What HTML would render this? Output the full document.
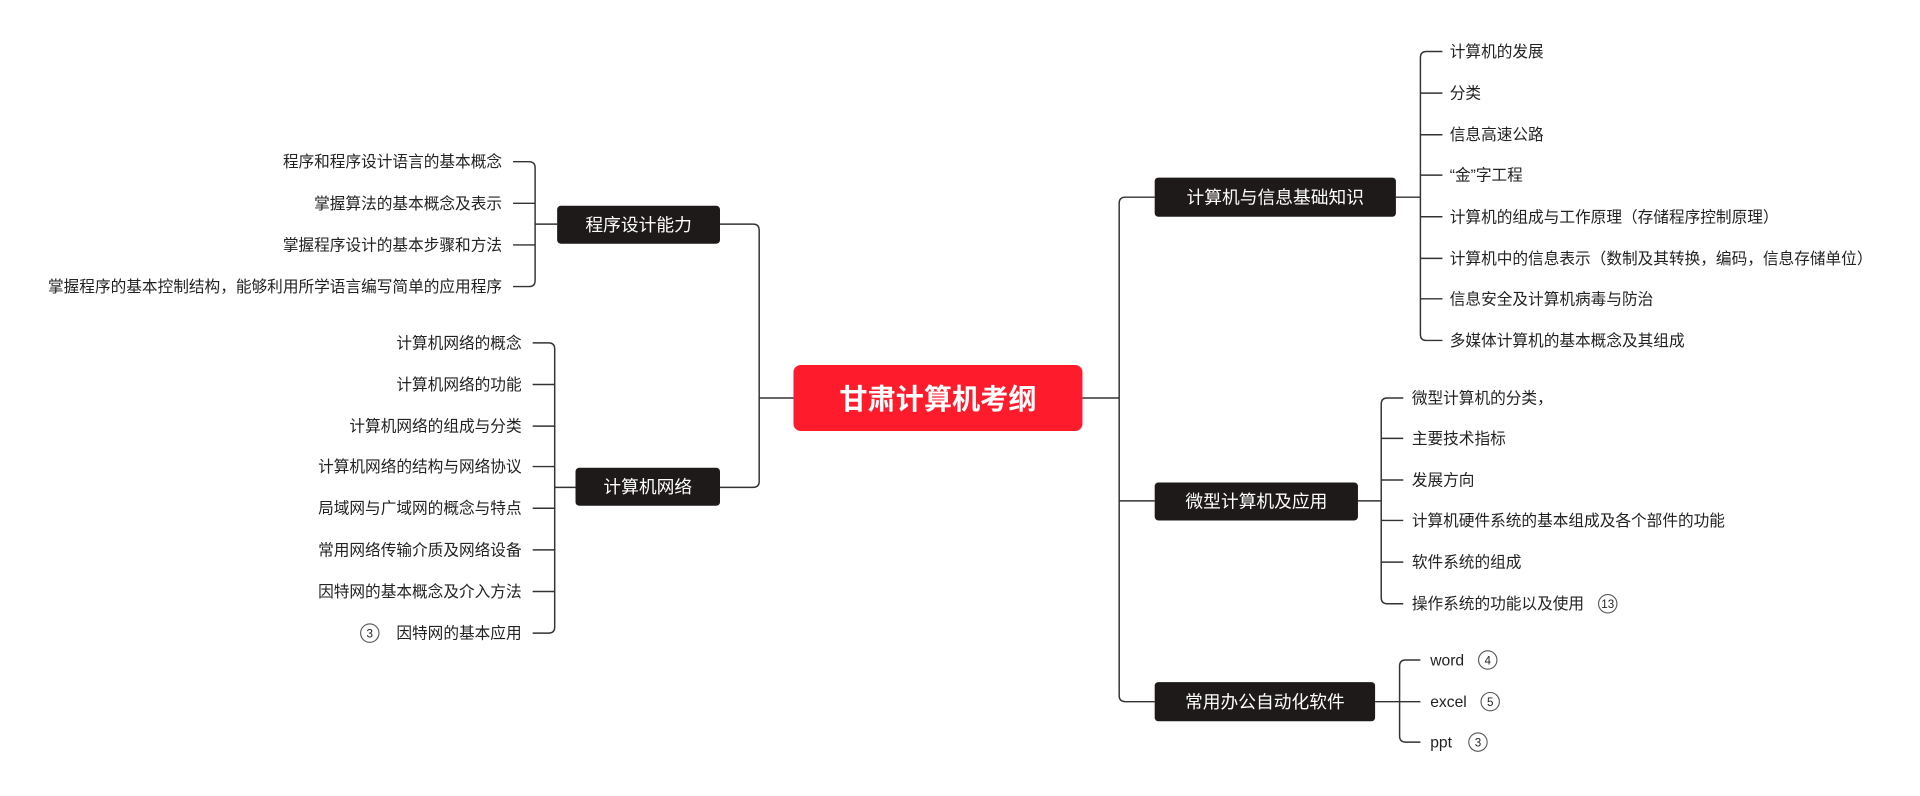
<!DOCTYPE html>
<html><head><meta charset="utf-8"><style>
html,body{margin:0;padding:0;background:#fff;width:1920px;height:796px;overflow:hidden}
svg text{font-family:"Liberation Sans","Noto Sans CJK SC",sans-serif;fill:#222}
</style></head><body>
<svg width="1920" height="796" viewBox="0 0 1568 650" xmlns="http://www.w3.org/2000/svg">
<g fill="none" stroke="#333" stroke-width="1.2">
<path d="M884,325 H914"/>
<path d="M914,325 V166 Q914,161 919,161 H943"/>
<path d="M914,325 V568 Q914,573 919,573 H943"/>
<path d="M914,409 H943"/>
<path d="M648,325 H620"/>
<path d="M620,325 V188 Q620,183 615,183 H588"/>
<path d="M620,325 V393 Q620,398 615,398 H588"/>
<path d="M1140,161 H1160"/>
<path d="M1178,42 H1165 Q1160,42 1160,47 V273 Q1160,278 1165,278 H1178"/>
<path d="M1160,76 H1178 M1160,110 H1178 M1160,143 H1178 M1160,177 H1178 M1160,211 H1178 M1160,244 H1178"/>
<path d="M1109,409 H1128"/>
<path d="M1146,325 H1133 Q1128,325 1128,330 V488 Q1128,493 1133,493 H1146"/>
<path d="M1128,358 H1146 M1128,392 H1146 M1128,425 H1146 M1128,459 H1146"/>
<path d="M1123,573 H1143"/>
<path d="M1160,539 H1148 Q1143,539 1143,544 V601 Q1143,606 1148,606 H1160"/>
<path d="M1143,573 H1160"/>
<path d="M455,183 H437"/>
<path d="M419,132 H432 Q437,132 437,137 V229 Q437,234 432,234 H419"/>
<path d="M437,166 H419 M437,200 H419"/>
<path d="M470,398 H453"/>
<path d="M435,280 H448 Q453,280 453,285 V512 Q453,517 448,517 H435"/>
<path d="M453,314 H435 M453,348 H435 M453,381 H435 M453,415 H435 M453,449 H435 M453,483 H435"/>
</g>
<rect x="648" y="298" width="236" height="54" rx="6" fill="#fe1b2b"/>
<text x="766" y="334" text-anchor="middle" font-size="23" font-weight="bold" style="fill:#fff">甘肃计算机考纲</text>
<g font-size="14.5">
<rect x="943" y="145" width="197" height="32" rx="3" fill="#1f1a1a"/>
<text x="1041.5" y="166" text-anchor="middle" style="fill:#fff">计算机与信息基础知识</text>
<rect x="943" y="394" width="166" height="31" rx="3" fill="#1f1a1a"/>
<text x="1026" y="414.5" text-anchor="middle" style="fill:#fff">微型计算机及应用</text>
<rect x="943" y="557" width="180" height="32" rx="3" fill="#1f1a1a"/>
<text x="1033" y="578" text-anchor="middle" style="fill:#fff">常用办公自动化软件</text>
<rect x="455" y="168" width="133" height="31" rx="3" fill="#1f1a1a"/>
<text x="521.5" y="188.5" text-anchor="middle" style="fill:#fff">程序设计能力</text>
<rect x="470" y="382" width="118" height="31" rx="3" fill="#1f1a1a"/>
<text x="529" y="402.5" text-anchor="middle" style="fill:#fff">计算机网络</text>
</g>
<g font-size="12.8">
<text x="1184" y="46.5">计算机的发展</text>
<text x="1184" y="80.5">分类</text>
<text x="1184" y="114.5">信息高速公路</text>
<text x="1184" y="147.5">“金”字工程</text>
<text x="1184" y="181.5">计算机的组成与工作原理（存储程序控制原理）</text>
<text x="1184" y="215.5">计算机中的信息表示（数制及其转换，编码，信息存储单位）</text>
<text x="1184" y="248.5">信息安全及计算机病毒与防治</text>
<text x="1184" y="282.5">多媒体计算机的基本概念及其组成</text>
<text x="1153" y="329.5">微型计算机的分类，</text>
<text x="1153" y="362.5">主要技术指标</text>
<text x="1153" y="396.5">发展方向</text>
<text x="1153" y="429.5">计算机硬件系统的基本组成及各个部件的功能</text>
<text x="1153" y="463.5">软件系统的组成</text>
<text x="1153" y="497.5">操作系统的功能以及使用</text>
<text x="1168" y="543.5">word</text>
<text x="1168" y="577.5">excel</text>
<text x="1168" y="610.5">ppt</text>
<g text-anchor="end">
<text x="410" y="136.5">程序和程序设计语言的基本概念</text>
<text x="410" y="170.5">掌握算法的基本概念及表示</text>
<text x="410" y="204.5">掌握程序设计的基本步骤和方法</text>
<text x="410" y="238.5">掌握程序的基本控制结构，能够利用所学语言编写简单的应用程序</text>
<text x="426" y="284.5">计算机网络的概念</text>
<text x="426" y="318.5">计算机网络的功能</text>
<text x="426" y="352.5">计算机网络的组成与分类</text>
<text x="426" y="385.5">计算机网络的结构与网络协议</text>
<text x="426" y="419.5">局域网与广域网的概念与特点</text>
<text x="426" y="453.5">常用网络传输介质及网络设备</text>
<text x="426" y="487.5">因特网的基本概念及介入方法</text>
<text x="426" y="521.5">因特网的基本应用</text>
</g>
</g>
<g fill="none" stroke="#555" stroke-width="0.9">
<circle cx="1313" cy="493" r="7.5"/>
<circle cx="1215" cy="539" r="7.5"/>
<circle cx="1217" cy="573" r="7.5"/>
<circle cx="1207" cy="606" r="7.5"/>
<circle cx="302" cy="517" r="7.5"/>
</g>
<g font-size="9.5" text-anchor="middle">
<text x="1313" y="496.5">13</text>
<text x="1215" y="542.5">4</text>
<text x="1217" y="576.5">5</text>
<text x="1207" y="609.5">3</text>
<text x="302" y="520.5">3</text>
</g>
</svg>
</body></html>
